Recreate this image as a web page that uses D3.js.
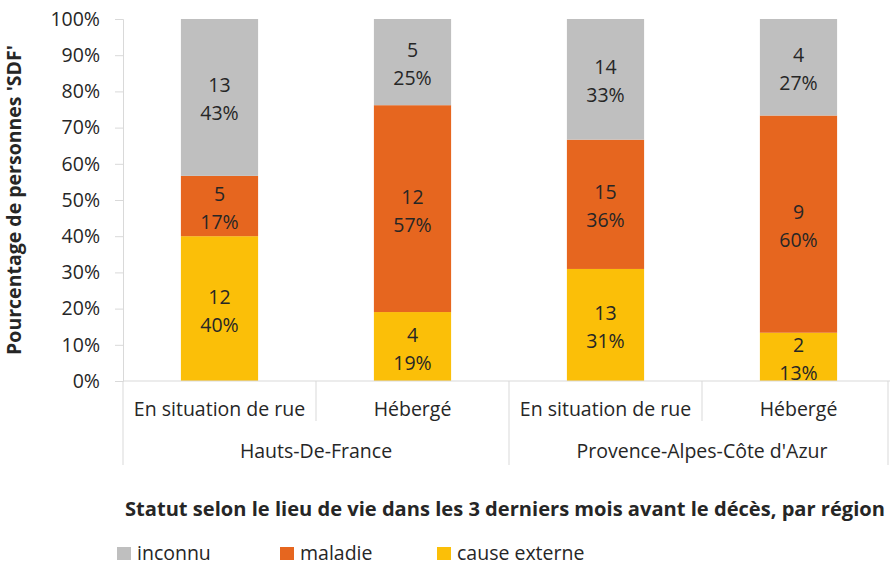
<!DOCTYPE html>
<html>
<head>
<meta charset="utf-8">
<script src="https://cdn.jsdelivr.net/npm/d3@7"></script>
<style>
  body { margin: 0; background: #fff; }
  text { font-family: "Open Sans", Lato, sans-serif; fill: #262626; }
</style>
</head>
<body>
<div id="chart"></div>
<script>
// data
var regions = ["Hauts-De-France", "Provence-Alpes-Côte d'Azur"];
var statuts = ["En situation de rue", "Hébergé"];
var causes = ["cause externe", "maladie", "inconnu"];
var counts = {
  "cause externe": [12, 4, 13, 2],
  "maladie":       [5, 12, 15, 9],
  "inconnu":       [13, 5, 14, 4]
};
var pcts = {
  "cause externe": ["40%", "19%", "31%", "13%"],
  "maladie":       ["17%", "57%", "36%", "60%"],
  "inconnu":       ["43%", "25%", "33%", "27%"]
};
var yTicks = [0, 0.1, 0.2, 0.3, 0.4, 0.5, 0.6, 0.7, 0.8, 0.9, 1];
var colors = {"inconnu": "#BFBFBF", "maladie": "#E6661F", "cause externe": "#FBBF08"};
var legendOrder = ["inconnu", "maladie", "cause externe"];

var W = 890, H = 566;
var mLeft = 123, mRight = 895, mTop = 19, mBottom = 381;
var fs = "19.5px";

var svg = d3.select("#chart").append("svg")
  .attr("width", W).attr("height", H);

// one bar per region x statut
var bars = [];
regions.forEach(function(r) {
  statuts.forEach(function(s) { bars.push({region: r, statut: s, key: r + "|" + s}); });
});
bars.forEach(function(b, i) {
  var tot = 0;
  causes.forEach(function(c) { tot += counts[c][i]; });
  var acc = 0;
  b.segs = causes.map(function(c) {
    var v = counts[c][i] / tot;
    var seg = {cause: c, key: b.key, y0: acc, y1: acc + v, n: counts[c][i], pct: pcts[c][i]};
    acc += v;
    return seg;
  });
});

var x = d3.scaleBand()
  .domain(bars.map(function(d) { return d.key; }))
  .range([mLeft, mRight])
  .paddingInner(0.6)
  .paddingOuter(0.3);
var step = x.step();

var y = d3.scaleLinear().domain([0, 1]).range([mBottom, mTop]);

// y axis
var yAxis = svg.append("g")
  .attr("transform", "translate(" + mLeft + ",0)")
  .call(d3.axisLeft(y).tickValues(yTicks).tickFormat(d3.format(".0%")).tickSize(8).tickPadding(15));
yAxis.select(".domain").attr("stroke", "#D9D9D9");
yAxis.selectAll(".tick line").attr("stroke", "#D9D9D9");
yAxis.selectAll(".tick text")
  .style("font-family", "'Open Sans', sans-serif")
  .style("font-size", fs)
  .attr("fill", "#333");

// bars
var g = svg.append("g").selectAll("g")
  .data(bars).enter().append("g");

g.selectAll("rect")
  .data(function(d) { return d.segs; })
  .enter().append("rect")
  .attr("x", function(d) { return x(d.key); })
  .attr("width", x.bandwidth())
  .attr("y", function(d) { return y(d.y1); })
  .attr("height", function(d) { return y(d.y0) - y(d.y1); })
  .attr("fill", function(d) { return colors[d.cause]; });

var lab = g.selectAll("text.lab")
  .data(function(d) { return d.segs; })
  .enter().append("text")
  .attr("class", "lab")
  .attr("text-anchor", "middle")
  .style("font-size", fs);
lab.append("tspan")
  .attr("x", function(d) { return x(d.key) + x.bandwidth() / 2; })
  .attr("y", function(d) { return y((d.y0 + d.y1) / 2) - 5; })
  .text(function(d) { return d.n; });
lab.append("tspan")
  .attr("x", function(d) { return x(d.key) + x.bandwidth() / 2; })
  .attr("y", function(d) { return y((d.y0 + d.y1) / 2) + 23; })
  .text(function(d) { return d.pct; });

// x axis line and category separators
var axisCol = "#D9D9D9";
svg.append("line")
  .attr("x1", mLeft).attr("x2", mRight).attr("y1", mBottom).attr("y2", mBottom)
  .attr("stroke", axisCol);

bars.forEach(function(b, i) {
  var x0 = x(b.key) - x.paddingOuter() * step;
  var isGroupStart = (i % statuts.length) === 0;
  svg.append("line")
    .attr("x1", x0).attr("x2", x0)
    .attr("y1", mBottom).attr("y2", isGroupStart ? 465 : 421)
    .attr("stroke", axisCol);
  svg.append("text")
    .attr("x", x0 + step / 2).attr("y", 416)
    .attr("text-anchor", "middle")
    .style("font-size", fs)
    .text(b.statut);
});
svg.append("line")
  .attr("x1", mRight - 7).attr("x2", mRight - 7)
  .attr("y1", mBottom).attr("y2", 465)
  .attr("stroke", axisCol);

regions.forEach(function(r) {
  var first = x(r + "|" + statuts[0]) - x.paddingOuter() * step;
  svg.append("text")
    .attr("x", first + step * statuts.length / 2).attr("y", 458)
    .attr("text-anchor", "middle")
    .style("font-size", fs)
    .text(r);
});

// y axis title
svg.append("text")
  .attr("transform", "translate(21," + ((mTop + mBottom) / 2) + ") rotate(-90)")
  .attr("text-anchor", "middle")
  .style("font-size", fs)
  .style("font-weight", "bold")
  .attr("fill", "#000")
  .text("Pourcentage de personnes 'SDF'");

// x title
svg.append("text")
  .attr("x", 125).attr("y", 516)
  .style("font-size", "20.1px")
  .style("font-weight", "bold")
  .attr("fill", "#000")
  .text("Statut selon le lieu de vie dans les 3 derniers mois avant le décès, par région");

// legend
var legX = [117, 280, 437];
legendOrder.forEach(function(c, i) {
  svg.append("rect")
    .attr("x", legX[i]).attr("y", 547)
    .attr("width", 14).attr("height", 13)
    .attr("fill", colors[c]);
  svg.append("text")
    .attr("x", legX[i] + 20).attr("y", 560)
    .style("font-size", fs)
    .text(c);
});
</script>
</body>
</html>
